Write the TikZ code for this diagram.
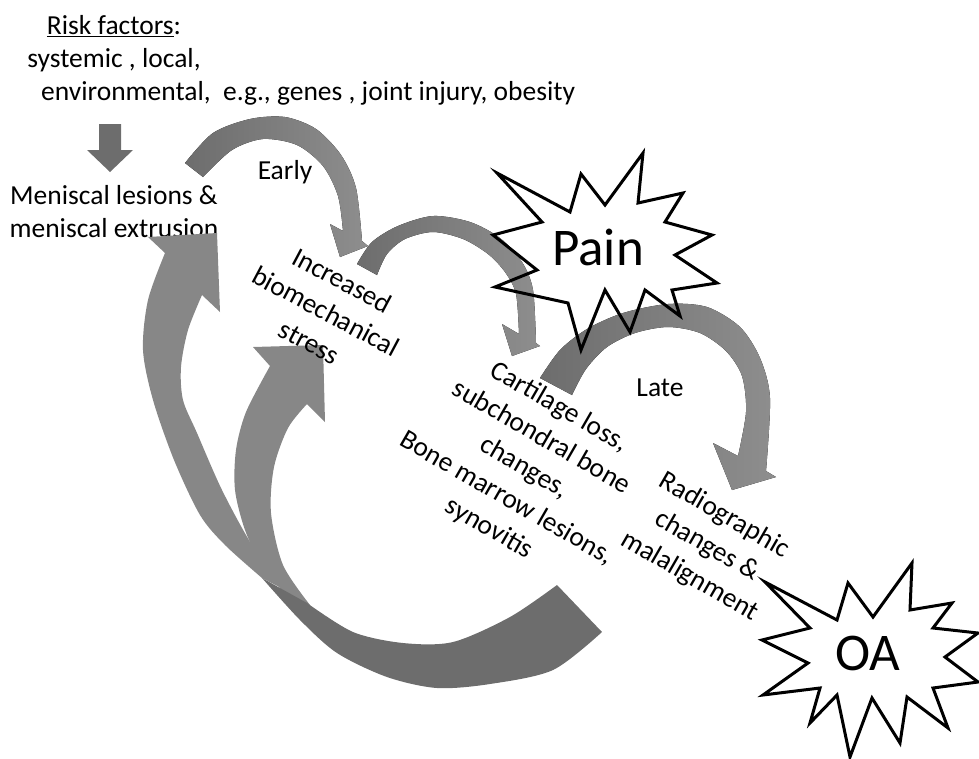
\documentclass[tikz,border=0pt]{standalone}
\usepackage{fontspec}
\setmainfont{Carlito}
\usetikzlibrary{positioning}
\definecolor{darkband}{HTML}{6D6D6D}
\definecolor{lightband}{HTML}{8E8E8E}
\definecolor{upband}{HTML}{878787}
\tikzstyle{txt} = [font=\fontsize{27.5}{33}\selectfont, inner sep=0pt, align=center]
\tikzstyle{slanted} = [font=\fontsize{27.5}{35}\selectfont, inner sep=0pt, align=center, rotate=-30]
\tikzstyle{starline} = [draw=black, line width=3pt]
\tikzstyle{bigword} = [font=\fontsize{53}{53}\selectfont, inner sep=0pt]
\tikzstyle{arcband} = [left color=darkband, right color=lightband, draw=none]
\tikzstyle{upshape} = [fill=upband, draw=none]
\tikzstyle{swoosh} = [fill=darkband, draw=none]

\begin{document}
\begin{tikzpicture}[x=1pt, y=-1pt]

		\useasboundingbox (0,0) rectangle (979,758);

		\node (risk_head) [txt] at (114,44) {\underline{Risk factors}:\\systemic , local,};
		\node (risk_eg) [txt, anchor=west] at (41,93) {environmental,\ \ e.g., genes , joint injury, obesity};

		\fill[darkband] (99,124) -- (121,124) -- (121,150) -- (133,150) -- (110,172) -- (87,150) -- (99,150) -- cycle;

		\node (menisc) [txt] at (114,212) {Meniscal lesions \&\\meniscal extrusion};

		% early loop
		\fill[arcband] plot[smooth] coordinates {(185,163) (213,133) (250,119) (285,117) (316,129) (341,155) (356,188) (362,241)}
			-- (368,246) -- (340,257) -- (330,224)
			-- plot[smooth] coordinates {(343,231) (338,196) (323,166) (297,145) (263,139) (232,150) (203,177)} -- cycle;
		\node (early) [txt] at (285,172) {Early};

		\fill[arcband] plot[smooth] coordinates {(357,264) (372,242) (398,226) (433,216) (470,222) (500,238) (522,262) (533,290) (536,343)}
			-- (540,346) -- (512,356) -- (502,324)
			-- plot[smooth] coordinates {(519,334) (516,294) (505,272) (488,254) (463,239) (433,232) (405,239) (387,254) (377,275)} -- cycle;

		% late loop
		\fill[arcband] plot[smooth] coordinates {(540,378) (560,350) (587,329) (623,313) (668,304) (707,307) (740,327) (760,358) (770,398) (766,471)}
			-- (776,477) -- (732,490) -- (713,443)
			-- plot[smooth] coordinates {(738,456) (746,412) (742,376) (726,351) (700,333) (668,327) (635,333) (607,347) (586,369) (572,395)} -- cycle;
		\node (late) [txt] at (660,388) {Late};

		% feedback arrows
		\fill[upshape] plot[smooth] coordinates {(262,578) (225,545) (200,515) (174,460) (153,400) (143,350) (148,300) (165,253)}
			-- (148,237) -- (217,233) -- (220,312)
			-- plot[smooth] coordinates {(202,295) (188,330) (181,367) (183,400) (197,433) (222,490) (252,545) (285,590)} -- cycle;
		\fill[upshape] plot[smooth] coordinates {(290,600) (262,565) (245,530) (235,490) (236,450) (246,412) (270,366)}
			-- (253,347) -- (323,345) -- (325,422)
			-- plot[smooth] coordinates {(307,404) (288,428) (274,467) (271,513) (283,565) (310,605)} -- cycle;
		\fill[swoosh] plot[smooth] coordinates {(602,632) (553,670) (490,684) (437,688) (387,677) (337,653) (300,620) (262,578)}
			-- plot[smooth] coordinates {(307,603) (353,632) (403,643) (453,642) (510,617) (557,585)} -- cycle;

		\node (stress) [slanted, rotate=2] at (326,311) {Increased\\biomechanical\\stress};
		\node (cartilage) [slanted] at (524,468) {Cartilage loss,\\subchondral bone\\changes,\\Bone marrow lesions,\\synovitis};
		\node (radio) [slanted] at (707,546) {Radiographic\\changes \&\\malalignment};

		% stars
		\draw[starline] (643,153) -- (638,203) -- (683,193) -- (665,222) -- (712,235) -- (675,255)
			-- (717,283) -- (672,290) -- (680,316) -- (645,290) -- (630,332) -- (605,290)
			-- (581,350) -- (568,303) -- (495,287) -- (537,270) -- (493,235) -- (542,222)
			-- (497,173) -- (570,212) -- (581,174) -- (605,205) -- cycle;
		\node (pain) [bigword] at (598,247) {Pain};

		\draw[starline, fill=white] (765,582) -- (837,620) -- (848,583) -- (873,617) -- (912,563) -- (910,610)
			-- (952,603) -- (933,628) -- (978,633) -- (945,657) -- (978,682) -- (933,688)
			-- (948,728) -- (907,697) -- (900,743) -- (872,698) -- (850,757) -- (837,695)
			-- (810,723) -- (820,688) -- (763,695) -- (808,663) -- (762,640) -- (810,628) -- cycle;
		\node (oa) [bigword] at (868,653) {OA};

\end{tikzpicture}
\end{document}
